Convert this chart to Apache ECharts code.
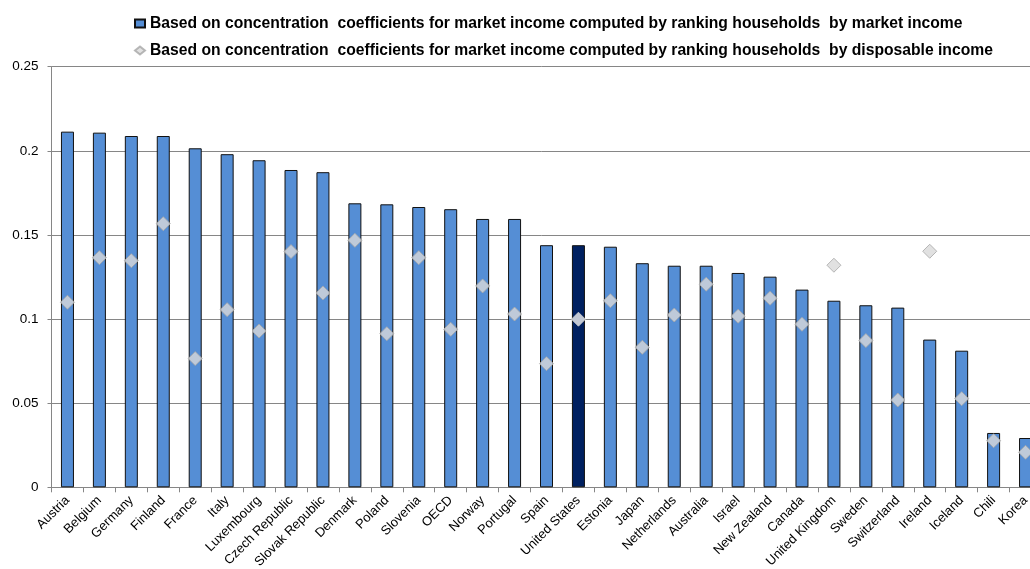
<!DOCTYPE html>
<html><head><meta charset="utf-8">
<script src="https://cdn.jsdelivr.net/npm/echarts@6/dist/echarts.min.js"></script>
<style>html,body{margin:0;padding:0;background:#fff}#c{width:1030px;height:569px}</style>
</head><body><div id="c"></div>
<script>
const categories = ["Austria","Belgium","Germany","Finland","France","Italy","Luxembourg","Czech Republic","Slovak Republic","Denmark","Poland","Slovenia","OECD","Norway","Portugal","Spain","United States","Estonia","Japan","Netherlands","Australia","Israel","New Zealand","Canada","United Kingdom","Sweden","Switzerland","Ireland","Iceland","Chili","Korea"];
const marketRanking = [0.2114,0.2108,0.2088,0.2088,0.2015,0.198,0.1944,0.1886,0.1873,0.1688,0.1682,0.1666,0.1653,0.1595,0.1595,0.1439,0.1439,0.143,0.1332,0.1317,0.1317,0.1274,0.1252,0.1175,0.1109,0.1082,0.1068,0.0878,0.0812,0.0323,0.0293];
const disposableRanking = [0.11,0.1365,0.1347,0.1567,0.0765,0.1056,0.0929,0.1401,0.1155,0.1468,0.0913,0.1365,0.0939,0.1197,0.103,0.0735,0.0999,0.1109,0.0832,0.1024,0.1207,0.1017,0.1124,0.0969,0.132,0.0872,0.0519,0.1403,0.0527,0.0277,0.0208];
const yTicks = [0, 0.05, 0.1, 0.15, 0.2, 0.25];
const highlight = "United States";
const name1 = "Based on concentration  coefficients for market income computed by ranking households  by market income";
const name2 = "Based on concentration  coefficients for market income computed by ranking households  by disposable income";

const FONT = "'Liberation Sans', Arial, sans-serif";
const chart = echarts.init(document.getElementById('c'), null, {renderer:'canvas'});
chart.setOption({
  animation:false,
  backgroundColor:'#fff',
  textStyle:{fontFamily:FONT},
  legend:{
    orient:'vertical', left:129, top:10, itemGap:10, itemWidth:10, itemHeight:8,
    textStyle:{fontFamily:FONT, fontSize:15.7, fontWeight:'bold', color:'#000', lineHeight:17},
    data:[{name:name1, icon:'rect'},{name:name2, icon:'diamond'}]
  },
  grid:{left:51.5, top:66.7, width:990, height:420.6, containLabel:false, outerBoundsMode:'none'},
  xAxis:{
    type:'category', data:categories, boundaryGap:true,
    axisLine:{lineStyle:{color:'#868686', width:1}},
    axisTick:{show:true, length:5, alignWithLabel:false, lineStyle:{color:'#868686'}},
    axisLabel:{rotate:45, interval:0, margin:11, fontSize:13, color:'#000', fontFamily:FONT}
  },
  yAxis:{
    type:'value', min:yTicks[0], max:yTicks[yTicks.length-1], interval:0.05,
    axisLine:{show:true, lineStyle:{color:'#868686'}},
    axisTick:{show:true, length:4, inside:false, lineStyle:{color:'#868686'}},
    splitLine:{show:true, lineStyle:{color:'#868686', width:1}},
    axisLabel:{fontSize:13.5, color:'#000', margin:13, fontFamily:FONT,
      formatter:v=>String(+v.toFixed(2))}
  },
  series:[
    {name:name1, type:'bar', barWidth:13,
     itemStyle:{color:'#558ED5', borderColor:'#111', borderWidth:1},
     data:marketRanking.map((v,i)=>categories[i]===highlight?{value:v,itemStyle:{color:'#002060'}}:v)},
    {name:name2, type:'scatter', symbol:'diamond', symbolSize:[14,14], z:5,
     itemStyle:{color:'#D9D9D9', borderColor:'#A6A6A6', borderWidth:1},
     data:disposableRanking.map((v,i)=>categories[i]===highlight?{value:v,itemStyle:{color:'#F2F2F2', borderColor:'#D0D0D0'}}:v)}
  ]
});
</script></body></html>
